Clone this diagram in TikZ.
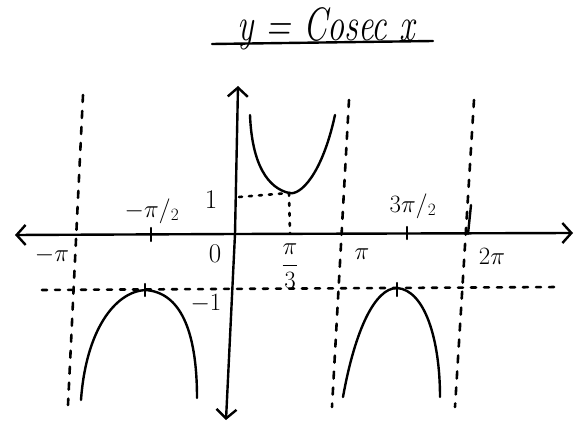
\documentclass[tikz,border=0pt]{standalone}
\usetikzlibrary{arrows.meta}
\begin{document}
\begin{tikzpicture}[x=1pt,y=-1pt,
  ink/.style={line width=2.4pt,line cap=round,line join=round,black},
  axisline/.style={ink,-{Straight Barb[length=9pt,width=20pt,line width=2.4pt]}},
  asym/.style={line width=2.6pt,line cap=round,dash pattern=on 7pt off 9pt},
  guide/.style={line width=2.6pt,line cap=round,dash pattern=on 5pt off 8pt},
  lbl/.style={inner sep=0pt,font=\fontsize{27}{30}\selectfont}
]
\useasboundingbox (0,0) rectangle (579,425);
% title
\node[inner sep=0pt,font=\fontsize{36}{40}\selectfont\itshape] (title) at (326,29) {\scalebox{0.95}[1.3]{y = Cosec x}};
\coordinate (ulA) at (212,44);
\coordinate (ulB) at (433,41);
\draw[ink] (ulA) -- (ulB);
% axes
\coordinate (xl) at (15,235);
\coordinate (xr) at (573,233);
\coordinate (o) at (235,234);
\draw[axisline] (o) -- (xr);
\draw[axisline] (o) -- (xl);
\coordinate (yt) at (238,86);
\coordinate (yb) at (226,420);
\draw[axisline] (o) -- (yt);
\draw[axisline] (o) -- (yb);
% asymptotes
\coordinate (a1t) at (83,95);  \coordinate (a1b) at (68,405);
\coordinate (a2t) at (349,100); \coordinate (a2b) at (332,407);
\coordinate (a3t) at (474,100); \coordinate (a3b) at (455,407);
\draw[asym] (a1t) -- (a1b);
\draw[asym] (a2t) -- (a2b);
\draw[asym] (a3t) -- (a3b);
\coordinate (a3s) at (471,205);
\coordinate (a3x) at (468,234);
\draw[ink] (a3s) -- (a3x);
% y = -1 line
\coordinate (hl) at (42,290);
\coordinate (hr) at (560,287);
\draw[guide] (hl) -- (hr);
% y = 1 dotted guides
\coordinate (p1) at (239,197);
\coordinate (m) at (289,193);
\coordinate (mx) at (290,233);
\draw[guide,dash pattern=on 3pt off 7pt] (p1) -- (m) -- (mx);
% ticks
\coordinate (t1a) at (151,228); \coordinate (t1b) at (151,241);
\draw[ink] (t1a) -- (t1b);
\coordinate (t2a) at (407,227); \coordinate (t2b) at (407,239);
\draw[ink] (t2a) -- (t2b);
% upper branch
\draw[ink] (250,115) .. controls (252,165) and (268,188) .. (m) .. controls (300,196) and (322,175) .. (335,115);
% lower left arch
\coordinate (pk1) at (145,290);
\draw[ink] (81,400) .. controls (86,330) and (115,292) .. (pk1) .. controls (180,292) and (197,330) .. (197,398);
\coordinate (pk1a) at (145,284); \coordinate (pk1b) at (145,296);
\draw[ink] (pk1a) -- (pk1b);
% lower right arch
\coordinate (pk2) at (397,288);
\draw[ink] (343,397) .. controls (355,330) and (375,288) .. (pk2) .. controls (425,290) and (440,340) .. (440,397);
\coordinate (pk2a) at (397,283); \coordinate (pk2b) at (397,296);
\draw[ink] (pk2a) -- (pk2b);
% labels
\node[lbl] (lmpi) at (52,255) {$-\pi$};
\node[lbl] (lmpi2) at (152,211) {$-\pi/_2$};
\node[lbl] (lone) at (211,200) {1};
\node[lbl] (lzero) at (215,254) {0};
\node[lbl] (lpi3) at (290,266) {$\displaystyle\frac{\pi}{3}$};
\node[lbl] (lmone) at (206,304) {$-1$};
\node[lbl] (lpi) at (362,254) {$\pi$};
\node[lbl] (l3pi2) at (413,206) {$3\pi/_2$};
\node[lbl] (l2pi) at (492,256) {$2\pi$};
\end{tikzpicture}
\end{document}
